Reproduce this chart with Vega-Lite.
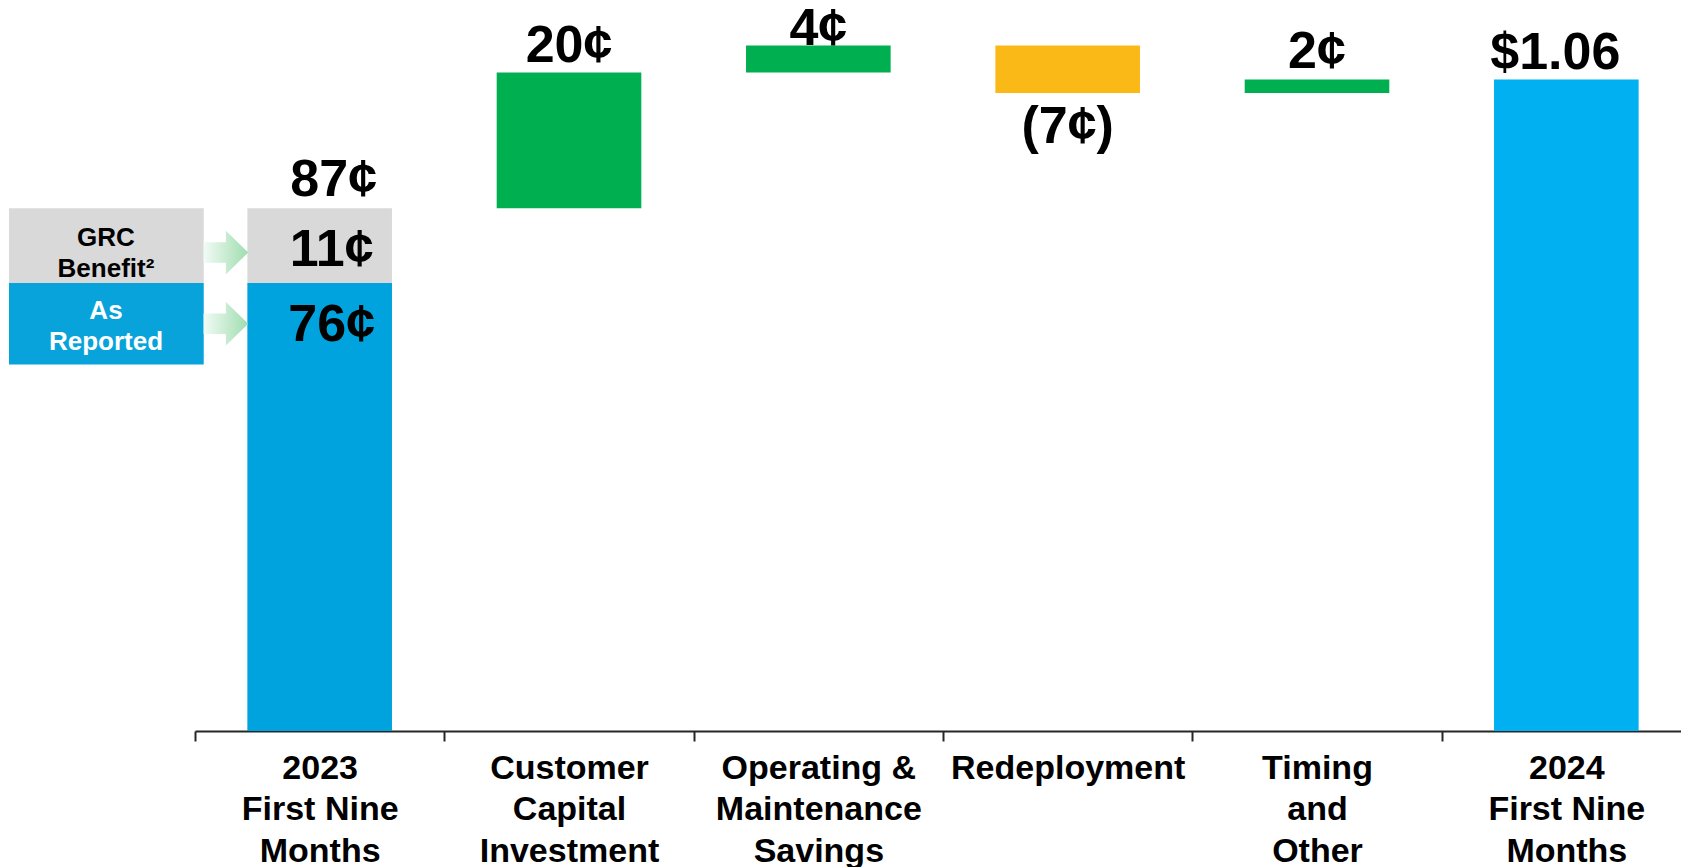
{
  "$schema": "https://vega.github.io/schema/vega-lite/v6.json",
  "autosize": {"type": "none"},
  "width": 1486,
  "height": 731,
  "padding": {"left": 195, "top": 0, "right": 0, "bottom": 136},
  "background": "white",
  "config": {"view": {"stroke": null}, "font": "Liberation Sans"},
  "datasets": {
    "steps": [
      {"cat": "2023 First Nine Months", "part": "As Reported", "start": 0, "end": 76, "label": "76¢"},
      {"cat": "2023 First Nine Months", "part": "GRC Benefit", "start": 76, "end": 87, "label": "11¢"},
      {"cat": "Customer Capital Investment", "part": "increase", "start": 87, "end": 107, "label": "20¢"},
      {"cat": "Operating & Maintenance Savings", "part": "increase", "start": 107, "end": 111, "label": "4¢"},
      {"cat": "Redeployment", "part": "decrease", "start": 111, "end": 104, "label": "(7¢)"},
      {"cat": "Timing and Other", "part": "increase", "start": 104, "end": 106, "label": "2¢"},
      {"cat": "2024 First Nine Months", "part": "total", "start": 0, "end": 106, "label": "$1.06"}
    ],
    "totals": [
      {"cat": "2023 First Nine Months", "value": 87, "label": "87¢"}
    ],
    "legend": [
      {"part": "GRC Benefit", "text": "GRC\nBenefit²"},
      {"part": "As Reported", "text": "As\nReported"}
    ]
  },
  "layer": [
    {
      "data": {"name": "steps"},
      "mark": {"type": "bar", "width": {"band": 0.58}},
      "encoding": {
        "x": {
          "field": "cat", "type": "nominal", "sort": null,
          "scale": {"range": [0, 1496], "paddingInner": 0, "paddingOuter": 0},
          "axis": {
            "title": null,
            "tickBand": "extent",
            "domainColor": "#262626", "domainWidth": 2,
            "tickColor": "#262626", "tickWidth": 2, "tickSize": 10,
            "labelFontSize": 34, "labelFontWeight": "bold", "labelColor": "#000000",
            "labelFont": "Liberation Sans",
            "labelPadding": 10, "labelLineHeight": 41.5, "labelLimit": 600,
            "labelAngle": 0, "labelOverlap": false, "labelFlush": false,
            "labelExpr": "datum.value == '2023 First Nine Months' ? ['2023', 'First Nine', 'Months'] : datum.value == 'Customer Capital Investment' ? ['Customer', 'Capital', 'Investment'] : datum.value == 'Operating & Maintenance Savings' ? ['Operating &', 'Maintenance', 'Savings'] : datum.value == 'Timing and Other' ? ['Timing', 'and', 'Other'] : datum.value == '2024 First Nine Months' ? ['2024', 'First Nine', 'Months'] : datum.value"
          }
        },
        "y": {"field": "start", "type": "quantitative", "scale": {"domain": [10, 117.7], "clamp": true, "nice": false, "zero": false}, "axis": null},
        "y2": {"field": "end"},
        "color": {
          "field": "part", "type": "nominal", "legend": null,
          "scale": {"domain": ["As Reported", "GRC Benefit", "increase", "decrease", "total"], "range": ["#00A3DD", "#D9D9D9", "#00B050", "#FBB917", "#00B0F0"]}
        }
      }
    },
    {
      "data": {"name": "steps"},
      "transform": [{"filter": "datum.part == 'increase' && datum.end != 111"}],
      "mark": {"type": "text", "fontSize": 52, "fontWeight": "bold", "font": "Liberation Sans", "color": "#000000", "baseline": "alphabetic", "dy": -11},
      "encoding": {
        "x": {"field": "cat", "type": "nominal", "sort": null},
        "y": {"field": "end", "type": "quantitative", "axis": null},
        "text": {"field": "label"}
      }
    },
    {
      "data": {"name": "steps"},
      "transform": [{"filter": "datum.part == 'increase' && datum.end == 111"}],
      "mark": {"type": "text", "fontSize": 52, "fontWeight": "bold", "font": "Liberation Sans", "color": "#000000", "baseline": "alphabetic", "dy": 0},
      "encoding": {
        "x": {"field": "cat", "type": "nominal", "sort": null},
        "y": {"field": "end", "type": "quantitative", "axis": null},
        "text": {"field": "label"}
      }
    },
    {
      "data": {"name": "steps"},
      "transform": [{"filter": "datum.part == 'decrease'"}],
      "mark": {"type": "text", "fontSize": 52, "fontWeight": "bold", "font": "Liberation Sans", "color": "#000000", "baseline": "alphabetic", "dy": 50},
      "encoding": {
        "x": {"field": "cat", "type": "nominal", "sort": null},
        "y": {"field": "end", "type": "quantitative", "axis": null},
        "text": {"field": "label"}
      }
    },
    {
      "data": {"name": "steps"},
      "transform": [{"filter": "datum.part == 'As Reported' || datum.part == 'GRC Benefit'"}],
      "mark": {"type": "text", "fontSize": 52, "fontWeight": "bold", "font": "Liberation Sans", "color": "#000000", "baseline": "alphabetic", "dy": 58, "dx": 12},
      "encoding": {
        "x": {"field": "cat", "type": "nominal", "sort": null},
        "y": {"field": "end", "type": "quantitative", "axis": null},
        "text": {"field": "label"}
      }
    },
    {
      "data": {"name": "totals"},
      "mark": {"type": "text", "fontSize": 52, "fontWeight": "bold", "font": "Liberation Sans", "color": "#000000", "baseline": "alphabetic", "dy": -12, "dx": 14},
      "encoding": {
        "x": {"field": "cat", "type": "nominal", "sort": null},
        "y": {"field": "value", "type": "quantitative", "axis": null},
        "text": {"field": "label"}
      }
    },
    {
      "data": {"name": "steps"},
      "transform": [{"filter": "datum.part == 'total'"}],
      "mark": {"type": "text", "fontSize": 52, "fontWeight": "bold", "font": "Liberation Sans", "color": "#000000", "baseline": "alphabetic", "dy": -10, "dx": -11},
      "encoding": {
        "x": {"field": "cat", "type": "nominal", "sort": null},
        "y": {"field": "end", "type": "quantitative", "axis": null},
        "text": {"field": "label"}
      }
    },
    {
      "data": {"name": "legend"},
      "transform": [{"filter": "datum.part == 'GRC Benefit'"}],
      "mark": {"type": "rect", "color": "#D9D9D9"},
      "encoding": {
        "x": {"datum": "2023 First Nine Months", "type": "nominal", "bandPosition": -0.746},
        "x2": {"datum": "2023 First Nine Months", "bandPosition": 0.035},
        "y": {"datum": 87, "type": "quantitative", "axis": null},
        "y2": {"datum": 76}
      }
    },
    {
      "data": {"name": "legend"},
      "transform": [{"filter": "datum.part == 'As Reported'"}],
      "mark": {"type": "rect", "color": "#08A3DB"},
      "encoding": {
        "x": {"datum": "2023 First Nine Months", "type": "nominal", "bandPosition": -0.746},
        "x2": {"datum": "2023 First Nine Months", "bandPosition": 0.035},
        "y": {"datum": 76, "type": "quantitative", "axis": null},
        "y2": {"datum": 64}
      }
    },
    {
      "data": {"name": "legend"},
      "transform": [{"filter": "datum.part == 'GRC Benefit'"}],
      "mark": {"type": "text", "fontSize": 26, "fontWeight": "bold", "font": "Liberation Sans", "color": "#000000", "baseline": "middle", "lineBreak": "\n", "lineHeight": 31, "dy": -8},
      "encoding": {
        "x": {"datum": "2023 First Nine Months", "type": "nominal", "bandPosition": -0.357},
        "y": {"datum": 81.5, "type": "quantitative", "axis": null},
        "text": {"field": "text"}
      }
    },
    {
      "data": {"name": "legend"},
      "transform": [{"filter": "datum.part == 'As Reported'"}],
      "mark": {"type": "text", "fontSize": 26, "fontWeight": "bold", "font": "Liberation Sans", "color": "#FFFFFF", "baseline": "middle", "lineBreak": "\n", "lineHeight": 31, "dy": -13},
      "encoding": {
        "x": {"datum": "2023 First Nine Months", "type": "nominal", "bandPosition": -0.357},
        "y": {"datum": 70, "type": "quantitative", "axis": null},
        "text": {"field": "text"}
      }
    },
    {
      "data": {"name": "legend"},
      "transform": [{"filter": "datum.part == 'GRC Benefit'"}],
      "mark": {
        "type": "point", "filled": true, "opacity": 1, "strokeWidth": 0, "size": 1990,
        "shape": "M-1,-0.46L0,-0.46L0,-0.97L1,0L0,0.97L0,0.46L-1,0.46Z",
        "fill": {"gradient": "linear", "x1": 0, "y1": 0, "x2": 1, "y2": 0, "stops": [{"offset": 0, "color": "#F2FBF5"}, {"offset": 1, "color": "#9FDDB0"}]}
      },
      "encoding": {
        "x": {"datum": "2023 First Nine Months", "type": "nominal", "bandPosition": 0.124},
        "y": {"datum": 80.5, "type": "quantitative", "axis": null}
      }
    },
    {
      "data": {"name": "legend"},
      "transform": [{"filter": "datum.part == 'As Reported'"}],
      "mark": {
        "type": "point", "filled": true, "opacity": 1, "strokeWidth": 0, "size": 1990,
        "shape": "M-1,-0.46L0,-0.46L0,-0.97L1,0L0,0.97L0,0.46L-1,0.46Z",
        "fill": {"gradient": "linear", "x1": 0, "y1": 0, "x2": 1, "y2": 0, "stops": [{"offset": 0, "color": "#F2FBF5"}, {"offset": 1, "color": "#9FDDB0"}]}
      },
      "encoding": {
        "x": {"datum": "2023 First Nine Months", "type": "nominal", "bandPosition": 0.124},
        "y": {"datum": 70, "type": "quantitative", "axis": null}
      }
    }
  ]
}
